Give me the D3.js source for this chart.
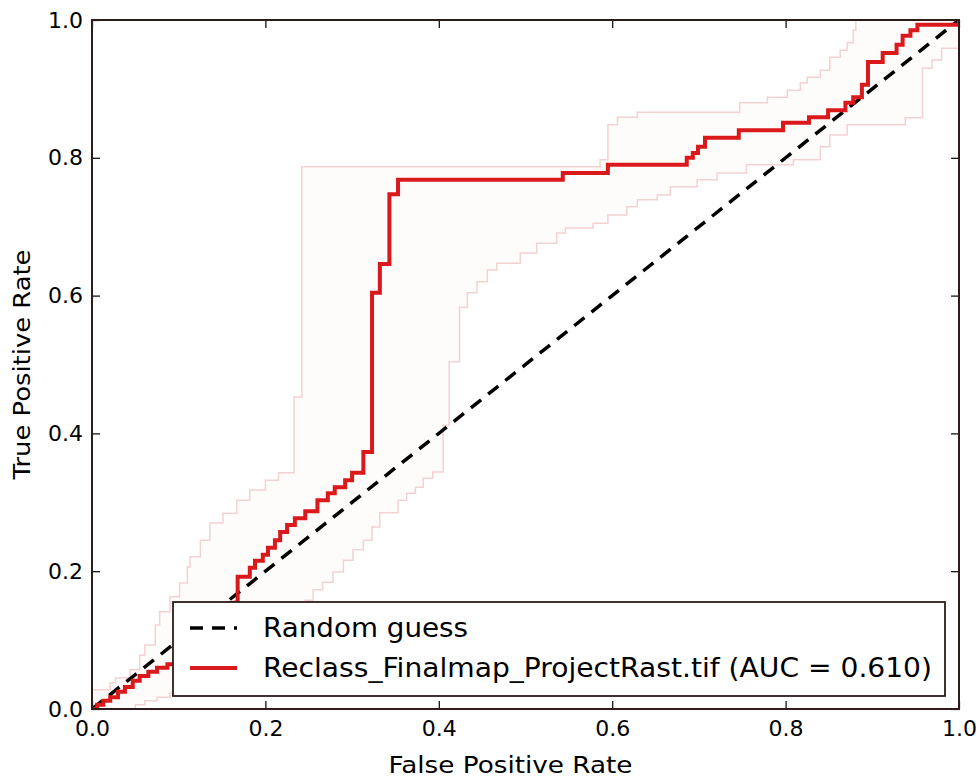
<!DOCTYPE html>
<html>
<head>
<meta charset="utf-8">
<script src="https://cdn.jsdelivr.net/npm/d3@7"></script>
<style>
  html, body { margin: 0; padding: 0; background: #ffffff; }
  svg { display: block; }
  text { font-family: "DejaVu Sans", "Liberation Sans", sans-serif; fill: #000; }
</style>
</head>
<body>
<svg id="chart" width="978" height="779"></svg>
<script>
// ---------------- DATA ----------------
const xTicks = [0.0, 0.2, 0.4, 0.6, 0.8, 1.0];
const yTicks = [0.0, 0.2, 0.4, 0.6, 0.8, 1.0];
const xLabel = "False Positive Rate";
const yLabel = "True Positive Rate";
const legendLabels = ["Random guess", "Reclass_Finalmap_ProjectRast.tif (AUC = 0.610)"];

const randomGuess = [[0, 0], [1, 1]];

// main ROC curve [fpr, tpr]
const rocCurve = [
  [0,0],[0.006,0],[0.006,0.006],[0.013,0.006],[0.013,0.012],[0.021,0.012],[0.021,0.017],
  [0.030,0.017],[0.030,0.025],[0.038,0.025],[0.038,0.032],[0.047,0.032],[0.047,0.041],
  [0.055,0.041],[0.055,0.048],[0.065,0.048],[0.065,0.054],[0.075,0.054],[0.075,0.060],
  [0.087,0.060],[0.087,0.065],[0.101,0.065],[0.101,0.086],[0.119,0.086],[0.119,0.107],
  [0.136,0.107],[0.136,0.129],[0.150,0.129],[0.150,0.152],[0.168,0.155],[0.168,0.192],
  [0.182,0.192],[0.182,0.205],[0.188,0.205],[0.188,0.215],[0.197,0.215],[0.197,0.224],
  [0.203,0.224],[0.203,0.234],[0.211,0.234],[0.211,0.245],[0.217,0.245],[0.217,0.257],
  [0.225,0.257],[0.225,0.267],[0.234,0.267],[0.234,0.277],[0.246,0.277],[0.246,0.287],
  [0.260,0.287],[0.260,0.303],[0.272,0.303],[0.272,0.313],[0.280,0.313],[0.280,0.322],
  [0.292,0.322],[0.292,0.332],[0.300,0.332],[0.300,0.343],[0.313,0.343],[0.313,0.373],
  [0.323,0.373],[0.323,0.604],[0.332,0.604],[0.332,0.646],[0.343,0.646],[0.343,0.747],
  [0.353,0.747],[0.353,0.768],[0.543,0.768],[0.543,0.778],[0.595,0.778],[0.595,0.790],
  [0.686,0.790],[0.686,0.800],[0.693,0.800],[0.693,0.807],[0.699,0.807],[0.699,0.816],
  [0.707,0.816],[0.707,0.829],[0.746,0.829],[0.746,0.840],[0.797,0.840],[0.797,0.851],
  [0.827,0.851],[0.827,0.859],[0.849,0.859],[0.849,0.869],[0.869,0.869],[0.869,0.880],
  [0.878,0.880],[0.878,0.888],[0.888,0.888],[0.888,0.906],[0.895,0.906],[0.895,0.939],
  [0.912,0.939],[0.912,0.952],[0.928,0.952],[0.928,0.964],[0.935,0.964],[0.935,0.977],
  [0.944,0.977],[0.944,0.985],[0.952,0.985],[0.952,0.993],[1.0,0.993],[1.0,1.0]
];

// upper confidence bound [fpr, tpr]
const upperBound = [
  [0,0],[0,0.028],[0.021,0.028],[0.021,0.038],[0.027,0.038],[0.027,0.045],[0.044,0.045],
  [0.044,0.057],[0.055,0.057],[0.055,0.078],[0.061,0.078],[0.061,0.093],[0.073,0.093],
  [0.073,0.122],[0.078,0.122],[0.078,0.141],[0.090,0.141],[0.090,0.163],[0.101,0.163],
  [0.101,0.183],[0.110,0.183],[0.110,0.206],[0.113,0.206],[0.113,0.221],[0.125,0.221],
  [0.125,0.245],[0.136,0.245],[0.136,0.270],[0.151,0.270],[0.151,0.284],[0.167,0.284],
  [0.167,0.303],[0.182,0.303],[0.182,0.318],[0.200,0.318],[0.200,0.332],[0.215,0.332],
  [0.215,0.343],[0.233,0.343],[0.233,0.453],[0.242,0.453],[0.242,0.787],[0.586,0.787],
  [0.586,0.797],[0.595,0.797],[0.595,0.848],[0.606,0.848],[0.606,0.859],[0.629,0.859],
  [0.629,0.866],[0.747,0.866],[0.747,0.880],[0.779,0.880],[0.779,0.888],[0.802,0.888],
  [0.802,0.898],[0.817,0.898],[0.817,0.909],[0.825,0.909],[0.825,0.917],[0.840,0.917],
  [0.840,0.927],[0.851,0.927],[0.851,0.946],[0.863,0.946],[0.863,0.956],[0.871,0.956],
  [0.871,0.967],[0.878,0.967],[0.878,0.985],[0.881,0.985],[0.881,1.0],[1.0,1.0]
];

// lower confidence bound [fpr, tpr]
const lowerBound = [
  [0,0],[0.050,0],[0.050,0.006],[0.061,0.006],[0.061,0.012],[0.075,0.012],[0.075,0.017],
  [0.090,0.017],[0.090,0.023],[0.113,0.023],[0.113,0.042],[0.142,0.042],[0.142,0.064],
  [0.171,0.064],[0.171,0.089],[0.200,0.089],[0.200,0.115],[0.228,0.115],[0.228,0.141],
  [0.246,0.141],[0.246,0.158],[0.255,0.158],[0.255,0.173],[0.266,0.173],[0.266,0.184],
  [0.278,0.184],[0.278,0.199],[0.290,0.199],[0.290,0.216],[0.301,0.216],[0.301,0.231],
  [0.313,0.231],[0.313,0.245],[0.323,0.245],[0.323,0.264],[0.332,0.264],[0.332,0.285],
  [0.353,0.285],[0.353,0.303],[0.363,0.303],[0.363,0.313],[0.373,0.313],[0.373,0.322],
  [0.382,0.322],[0.382,0.335],[0.393,0.335],[0.393,0.344],[0.405,0.344],[0.405,0.412],
  [0.412,0.412],[0.412,0.504],[0.424,0.504],[0.424,0.583],[0.433,0.583],[0.433,0.604],
  [0.444,0.604],[0.444,0.620],[0.456,0.620],[0.456,0.637],[0.467,0.637],[0.467,0.647],
  [0.494,0.647],[0.494,0.662],[0.513,0.662],[0.513,0.676],[0.536,0.676],[0.536,0.691],
  [0.546,0.691],[0.546,0.698],[0.578,0.698],[0.578,0.705],[0.595,0.705],[0.595,0.717],
  [0.617,0.717],[0.617,0.729],[0.629,0.729],[0.629,0.739],[0.652,0.739],[0.652,0.746],
  [0.667,0.746],[0.667,0.758],[0.698,0.758],[0.698,0.768],[0.721,0.768],[0.721,0.778],
  [0.755,0.778],[0.755,0.790],[0.809,0.790],[0.809,0.797],[0.840,0.797],[0.840,0.816],
  [0.851,0.816],[0.851,0.833],[0.871,0.833],[0.871,0.848],[0.938,0.848],[0.938,0.858],
  [0.958,0.858],[0.958,0.930],[0.969,0.930],[0.969,0.942],[0.980,0.942],[0.980,0.959],
  [1.0,0.959]
];

// ---------------- CHART ----------------
const svg = d3.select("#chart");
const plot = { left: 92, right: 959, top: 20, bottom: 709 };
const x = d3.scaleLinear().domain([0, 1]).range([plot.left, plot.right]);
const y = d3.scaleLinear().domain([0, 1]).range([plot.bottom, plot.top]);

const spineColor = "#2e1b1b";
const line = d3.line().x(d => x(d[0])).y(d => y(d[1]));

svg.append("defs").append("clipPath").attr("id", "clip")
  .append("rect").attr("x", plot.left).attr("y", plot.top)
  .attr("width", plot.right - plot.left).attr("height", plot.bottom - plot.top);

const g = svg.append("g").attr("clip-path", "url(#clip)");

// faint band between bounds
const band = upperBound.concat(lowerBound.slice().reverse());
g.append("path").attr("d", line(band) + "Z")
  .attr("fill", "#fbe4e4").attr("opacity", 0.14).attr("stroke", "none");

g.append("path").datum(upperBound).attr("d", line)
  .attr("fill", "none").attr("stroke", "#f3d2d2").attr("stroke-width", 1.5);
g.append("path").datum(lowerBound).attr("d", line)
  .attr("fill", "none").attr("stroke", "#f3d2d2").attr("stroke-width", 1.5);

g.append("path").datum(randomGuess).attr("d", line)
  .attr("fill", "none").attr("stroke", "#000").attr("stroke-width", 3.5)
  .attr("stroke-dasharray", "13,9");

g.append("path").datum(rocCurve).attr("d", line)
  .attr("fill", "none").attr("stroke", "#d9191c").attr("stroke-width", 4)
  .attr("stroke-linejoin", "miter");

// axes (inward ticks on all sides)
const fmt = d3.format(".1f");
const bottomAx = svg.append("g").attr("transform", `translate(0,${plot.bottom})`)
  .call(d3.axisBottom(x).tickValues(xTicks).tickSize(-8).tickPadding(11).tickFormat(fmt));
const leftAx = svg.append("g").attr("transform", `translate(${plot.left},0)`)
  .call(d3.axisLeft(y).tickValues(yTicks).tickSize(-8).tickPadding(9).tickFormat(fmt));
const topAx = svg.append("g").attr("transform", `translate(0,${plot.top})`)
  .call(d3.axisTop(x).tickValues(xTicks).tickSize(-8).tickFormat(""));
const rightAx = svg.append("g").attr("transform", `translate(${plot.right},0)`)
  .call(d3.axisRight(y).tickValues(yTicks).tickSize(-8).tickFormat(""));

[bottomAx, leftAx, topAx, rightAx].forEach(a => {
  a.select(".domain").remove();
  a.selectAll(".tick line").attr("stroke", "#000").attr("stroke-width", 1.2);
  a.selectAll(".tick text").attr("font-size", 22)
    .style("font-family", "'DejaVu Sans', sans-serif").attr("fill", "#000");
});

// spines
svg.append("rect").attr("x", plot.left).attr("y", plot.top)
  .attr("width", plot.right - plot.left).attr("height", plot.bottom - plot.top)
  .attr("fill", "none").attr("stroke", spineColor).attr("stroke-width", 2);

// axis labels
svg.append("text").attr("x", (plot.left + plot.right) / 2 - 15).attr("y", 773)
  .attr("text-anchor", "middle").attr("font-size", 23)
  .attr("textLength", 244).attr("lengthAdjust", "spacingAndGlyphs").text(xLabel);
svg.append("text")
  .attr("transform", `translate(30,${(plot.top + plot.bottom) / 2}) rotate(-90)`)
  .attr("text-anchor", "middle").attr("font-size", 23)
  .attr("textLength", 230).attr("lengthAdjust", "spacingAndGlyphs").text(yLabel);

// legend
const leg = svg.append("g");
leg.append("rect").attr("x", 173).attr("y", 602).attr("width", 772).attr("height", 94)
  .attr("fill", "#fff").attr("stroke", spineColor).attr("stroke-width", 1.8);
const legRows = [
  { label: legendLabels[0], y: 628, color: "#000", dash: "13,9", width: 3.5, tl: 205 },
  { label: legendLabels[1], y: 668, color: "#d9191c", dash: null, width: 4, tl: 669 }
];
legRows.forEach(r => {
  leg.append("line").attr("x1", 190).attr("x2", 237).attr("y1", r.y).attr("y2", r.y)
    .attr("stroke", r.color).attr("stroke-width", r.width)
    .attr("stroke-dasharray", r.dash);
  leg.append("text").attr("x", 263).attr("y", r.y + 9).attr("font-size", 26)
    .attr("textLength", r.tl).attr("lengthAdjust", "spacingAndGlyphs").text(r.label);
});
</script>
</body>
</html>
